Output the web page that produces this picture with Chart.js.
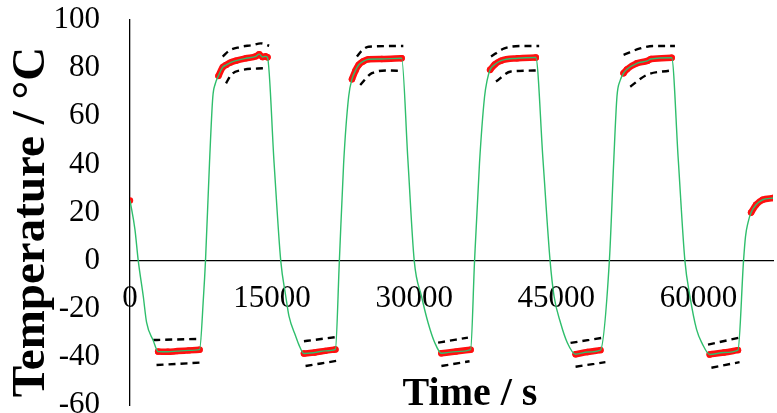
<!DOCTYPE html>
<html>
<head>
<meta charset="utf-8">
<script src="https://cdn.jsdelivr.net/npm/chart.js@4.4.1/dist/chart.umd.min.js"></script>
<style>
html, body { margin: 0; padding: 0; overflow: hidden; background: #fff; }
#wrap { width: 777px; height: 424px; }
</style>
</head>
<body>
<div id="wrap"><canvas id="chart"></canvas></div>
<script>
// tick labels
const xTicks = [0, 15000, 30000, 45000, 60000];
const yTicks = [-60, -40, -20, 0, 20, 40, 60, 80, 100];

// green temperature profile (s, °C)
const greenTime = [0, 520, 870, 1400, 1750, 2450, 2970, 4000, 5000, 6200, 7340, 7760, 7970, 8390, 8740, 9000, 9340,
  9790, 10140, 10600, 11190, 12240, 13290, 13640, 13990, 14300, 14510, 15210, 15910, 16440, 16780, 17490, 17830, 18360,
  19500, 20600, 21680, 22100, 22550, 23080, 23430, 23800, 24130, 24600, 25180, 26570, 28670,
  29330, 30000, 30770, 31470, 32170, 32870, 34400, 35950, 36370, 36890, 37420, 37700, 38010,
  38500, 39160, 40910, 42830, 43590, 44340, 44760, 45450, 46160, 47030, 48300, 49650,
  50600, 51050, 51400, 51750, 52100, 52450, 53500, 54600, 55000, 57170,
  57870, 58570, 59100, 59800, 60400, 61190, 62700, 64170, 64760, 64970, 65220, 65560, 66080, 66780, 67870];
const greenTemp = [25, 13, 0, -14.8, -25.7, -33.2, -37.8, -37.9, -37.6, -37.3, -37, -14.8, 0, 40.5, 68, 73.5, 76.8,
  80.4, 81.3, 82.3, 83.1, 84.1, 84.9, 85.8, 84.6, 84.9, 84.5, 40.5, 0, -14.8, -23.1, -31.4, -35, -38.6,
  -38.2, -37.5, -36.9, 0, 40.5, 68.2, 75.4, 79, 81.3, 82.8, 83.7, 83.8, 84.1,
  42, 0, -14.8, -25.9, -34.1, -38.5, -37.8, -37, 0, 40.5, 68, 75, 79.3,
  81.5, 83.1, 84.1, 84.4, 42, 0, -14.8, -25.9, -34.1, -38.9, -38, -37.2,
  0, 40.5, 68.2, 75, 77.9, 79.5, 82, 83, 83.8, 84.3,
  42, 0, -14.8, -28.6, -34.5, -39, -38.2, -37.2, 0, 10.1, 15.6, 20, 23.2, 25.3, 26];

// red measured points on the holds (null = gap)
const redTime = [0, 0,
  2970, 4000, 5000, 6200, 7340, 7340,
  9340, 9790, 10140, 10600, 11190, 12240, 13290, 13640, 13990, 14300, 14510, 14510,
  18360, 19500, 20600, 21680, 21680,
  23430, 23800, 24130, 24600, 25180, 26570, 28670, 28670,
  32870, 34400, 35950, 35950,
  38010, 38500, 39160, 40910, 42830, 42830,
  47030, 48300, 49650, 49650,
  52100, 52450, 53500, 54600, 55000, 57170, 57170,
  61190, 62700, 64170, 64170,
  65560, 66080, 66780, 67870];
const redTemp = [25, null,
  -37.8, -37.9, -37.6, -37.3, -37, null,
  76.8, 80.4, 81.3, 82.3, 83.1, 84.1, 84.9, 85.8, 84.6, 84.9, 84.5, null,
  -38.6, -38.2, -37.5, -36.9, null,
  75.4, 79, 81.3, 82.8, 83.7, 83.8, 84.1, null,
  -38.5, -37.8, -37, null,
  79.3, 81.5, 83.1, 84.1, 84.4, null,
  -38.9, -38, -37.2, null,
  77.9, 79.5, 82, 83, 83.8, 84.3, null,
  -39, -38.2, -37.2, null,
  20, 23.2, 25.3, 26];

// dashed tolerance bands (null = gap)
const upperTime = [2450, 7520, 7520,
  9790, 10490, 11540, 12930, 13810, 14690, 14690,
  18360, 21680, 21680,
  23950, 24470, 25180, 28850, 28850,
  32520, 35670, 35670,
  38110, 39510, 41610, 43190, 43190,
  46500, 50010, 50010,
  52100, 53840, 55250, 57520, 57520,
  61010, 64340];
const upperTemp = [-33, -32.5, null,
  84.8, 87.3, 88.7, 89.6, 90.3, 89.3, null,
  -33.5, -31.8, null,
  84.8, 87.3, 88.9, 89.2, null,
  -34.1, -32, null,
  84.8, 88.2, 89.2, 89.2, null,
  -34.2, -32, null,
  85.5, 88.2, 89.2, 89.2, null,
  -34.9, -32];
const lowerTime = [2800, 7340, 7340,
  10140, 10670, 11540, 14340, 14340,
  18530, 22030, 22030,
  24300, 25530, 27280, 28670, 28670,
  32870, 35840, 35840,
  38630, 40210, 43010, 43010,
  47030, 50180, 50180,
  52800, 54550, 56990, 56990,
  61370, 64340];
const lowerTemp = [-43.4, -42.4, null,
  73.7, 77.2, 79, 80, null,
  -43.8, -41.5, null,
  73, 77.9, 79, 78.8, null,
  -43.8, -41.8, null,
  74.4, 78.6, 79, null,
  -44.1, -42.2, null,
  72.3, 77.2, 79, null,
  -44.5, -42.2];

function pts(xs, ys) {
  return xs.map((x, i) => ({ x: x, y: ys[i] }));
}

Chart.defaults.font.family = '"Liberation Serif", "Times New Roman", serif';
Chart.defaults.color = '#000';

const titles = {
  id: 'titles',
  afterDraw(chart) {
    const c = chart.ctx;
    c.save();
    c.fillStyle = '#000';
    c.textAlign = 'center';
    c.textBaseline = 'alphabetic';
    c.font = 'bold 47px "Liberation Serif", serif';
    c.translate(44, 222);
    c.rotate(-Math.PI / 2);
    c.fillText('Temperature / °C', 0, 0);
    c.restore();
    c.save();
    c.fillStyle = '#000';
    c.textAlign = 'center';
    c.textBaseline = 'alphabetic';
    c.font = 'bold 40px "Liberation Serif", serif';
    c.fillText('Time / s', 470, 405);
    c.restore();
  }
};

new Chart(document.getElementById('chart'), {
  type: 'line',
  data: {
    datasets: [
      {
        data: pts(greenTime, greenTemp),
        borderColor: '#2fbe6c',
        borderWidth: 1.4,
        pointRadius: 0,
        cubicInterpolationMode: 'monotone',
        order: 0
      },
      {
        data: pts(redTime, redTemp),
        borderColor: '#ff1010',
        backgroundColor: '#ff1010',
        borderWidth: 6.5,
        borderCapStyle: 'round',
        pointRadius: 3.2,
        pointBorderWidth: 0,
        cubicInterpolationMode: 'monotone',
        order: 1
      },
      {
        data: pts(upperTime, upperTemp),
        borderColor: '#000',
        borderWidth: 2.4,
        borderDash: [7, 5],
        pointRadius: 0,
        cubicInterpolationMode: 'monotone',
        order: 2
      },
      {
        data: pts(lowerTime, lowerTemp),
        borderColor: '#000',
        borderWidth: 2.4,
        borderDash: [7, 5],
        pointRadius: 0,
        cubicInterpolationMode: 'monotone',
        order: 2
      }
    ]
  },
  options: {
    responsive: true,
    maintainAspectRatio: false,
    animation: false,
    layout: { padding: { top: 20, right: 0, bottom: 19, left: 0 } },
    plugins: { legend: { display: false }, tooltip: { enabled: false } },
    scales: {
      x: {
        type: 'linear',
        position: { y: 0 },
        min: 0,
        max: 67870,
        afterBuildTicks: s => { s.ticks = xTicks.map(v => ({ value: v })); },
        grid: { display: false, drawTicks: false },
        border: { color: '#000', width: 1.3 },
        ticks: { font: { size: 31 }, padding: 20, maxRotation: 0, autoSkip: false, callback: v => String(v) }
      },
      y: {
        min: -60,
        max: 100,
        afterBuildTicks: s => { s.ticks = yTicks.map(v => ({ value: v })); },
        afterFit: s => { s.width = 130; s.paddingTop = 0; s.paddingBottom = 0; },
        grid: { display: false, drawTicks: false },
        border: { color: '#000', width: 1.3 },
        ticks: { font: { size: 31 }, padding: 30, callback: v => String(v) }
      }
    }
  },
  plugins: [titles]
});
</script>
</body>
</html>
